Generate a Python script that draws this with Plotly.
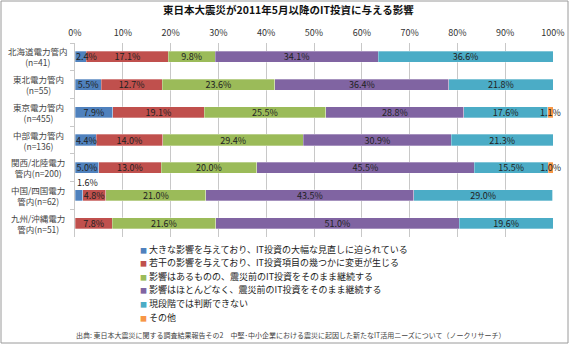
import plotly.graph_objects as go

categories = ["北海道電力管内<br>(n=41)", "東北電力管内<br>(n=55)", "東京電力管内<br>(n=455)",
              "中部電力管内<br>(n=136)", "関西/北陸電力<br>管内(n=200)", "中国/四国電力<br>管内(n=62)",
              "九州/沖縄電力<br>管内(n=51)"]
series_names = ["大きな影響を与えており、IT投資の大幅な見直しに迫られている",
                "若干の影響を与えており、IT投資項目の幾つかに変更が生じる",
                "影響はあるものの、震災前のIT投資をそのまま継続する",
                "影響はほとんどなく、震災前のIT投資をそのまま継続する",
                "現段階では判断できない",
                "その他"]
s_major = [2.4, 5.5, 7.9, 4.4, 5.0, 1.6, 0]
s_minor = [17.1, 12.7, 19.1, 14.0, 13.0, 4.8, 7.8]
s_continue = [9.8, 23.6, 25.5, 29.4, 20.0, 21.0, 21.6]
s_none = [34.1, 36.4, 28.8, 30.9, 45.5, 43.5, 51.0]
s_unknown = [36.6, 21.8, 17.6, 21.3, 15.5, 29.0, 19.6]
s_other = [0, 0, 1.1, 0, 1.0, 0, 0]
series = [s_major, s_minor, s_continue, s_none, s_unknown, s_other]
colors = ["#4F81BD", "#C0504D", "#9BBB59", "#8064A2", "#4BACC6", "#F79646"]
tick_vals = list(range(0, 101, 10))
tick_text = [f"{v}%" for v in tick_vals]
title_text = "東日本大震災が2011年5月以降のIT投資に与える影響"
source_text = "出典: 東日本大震災に関する調査結果報告その2　中堅･中小企業における震災に起因した新たなIT活用ニーズについて（ノークリサーチ）"

FONT = "Noto Sans CJK JP"
W, H = 570, 345
ML, MR, MT, MB = 75, 17, 43, 108
pw, ph = W - ML - MR, H - MT - MB


def px_x(x):  # pixel -> paper x
    return (x - ML) / pw


def px_y(y):  # pixel -> paper y
    return 1 - (y - MT) / ph


fig = go.Figure()
annotations = []
for si, (name, vals, col) in enumerate(zip(series_names, series, colors)):
    texts = []
    for i, v in enumerate(vals):
        label = f"{v:.1f}%"
        if v == 0:
            texts.append("")
        elif si == 0 and v < 2:
            texts.append("")
            annotations.append(dict(x=0, y=categories[i], xref="x", yref="y", text=label,
                                    showarrow=False, xanchor="left", yshift=13,
                                    font=dict(size=9, color="#222", family=FONT)))
        elif si == 0 and v < 4.7:
            texts.append("")
            annotations.append(dict(x=0, y=categories[i], xref="x", yref="y", text=label,
                                    showarrow=False, xanchor="left", xshift=-1,
                                    font=dict(size=9, color="#222", family=FONT)))
        else:
            texts.append(label)
    fig.add_trace(go.Bar(
        y=categories, x=vals, name=name, orientation="h", showlegend=False,
        marker=dict(color=col, line=dict(color="rgba(255,255,255,0.5)", width=0.6)),
        text=texts, textposition="inside", insidetextanchor="middle",
        constraintext="none", textangle=0, cliponaxis=False,
        insidetextfont=dict(size=9, color="#222", family=FONT),
        hoverinfo="skip",
    ))

for c in categories:
    annotations.append(dict(x=px_x(38), y=c, xref="paper", yref="y", text=c,
                            showarrow=False, align="center", xanchor="center",
                            font=dict(size=8.5, color="#444", family=FONT)))

annotations.append(dict(x=px_x(288), y=px_y(10), xref="paper", yref="paper",
                        text=f"<b>{title_text}</b>",
                        showarrow=False, xanchor="center", yanchor="middle",
                        font=dict(size=10.5, color="#111", family=FONT)))
annotations.append(dict(x=px_x(508), y=px_y(335), xref="paper", yref="paper",
                        text=source_text, showarrow=False, xanchor="right", yanchor="middle",
                        font=dict(size=7, color="#444", family=FONT)))

# manual legend
for k, (name, col) in enumerate(zip(series_names, colors)):
    ly = 249 + 13.6 * k
    annotations.append(dict(x=px_x(138), y=px_y(ly), xref="paper", yref="paper",
                            text=f"<span style='color:{col};font-size:7px'>■</span> {name}",
                            showarrow=False, xanchor="left", yanchor="middle", align="left",
                            font=dict(size=9, color="#222", family=FONT)))

fig.update_layout(
    width=W, height=H, barmode="stack", bargap=0.6,
    margin=dict(l=ML, r=MR, t=MT, b=MB, autoexpand=False),
    paper_bgcolor="white", plot_bgcolor="white",
    font=dict(family=FONT, size=9, color="#333"),
    showlegend=False,
    annotations=annotations,
    shapes=[dict(type="rect", xref="paper", yref="paper",
                 x0=px_x(1), x1=px_x(W - 2),
                 y0=px_y(H - 2), y1=px_y(1),
                 line=dict(color="#9a9a9a", width=1))],
)
fig.update_xaxes(side="top", range=[0, 100], tickvals=tick_vals, ticktext=tick_text,
                 showgrid=True, gridcolor="#c8c8c8", gridwidth=1, zeroline=False,
                 ticks="", ticklabelstandoff=4,
                 tickfont=dict(size=9, color="#333", family=FONT), fixedrange=True)
fig.update_yaxes(autorange="reversed", showticklabels=False, showline=True, linecolor="#c8c8c8",
                 ticks="outside", tickson="boundaries", ticklen=4, tickcolor="#c8c8c8",
                 showgrid=False, fixedrange=True)

fig.write_html("out.html")
